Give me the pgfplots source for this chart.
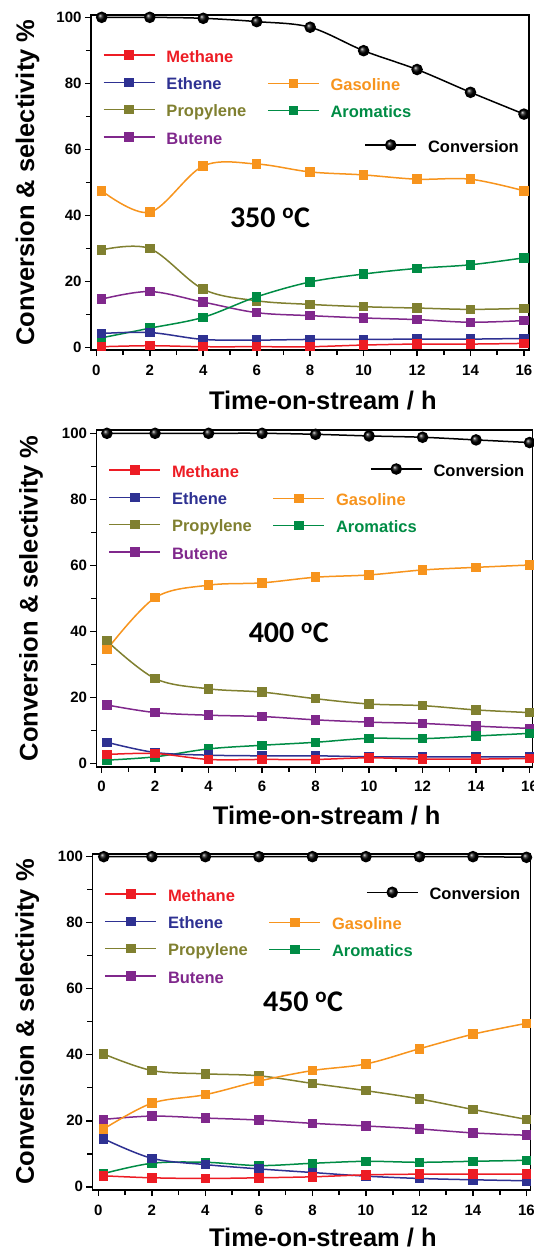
\documentclass[border=0pt]{standalone}
\usepackage{fontspec}
\setmainfont{Liberation Sans}
\newfontfamily\calib{Carlito}
\usepackage{pgfplots}
\usepackage{pgfplotstable}
\pgfplotsset{compat=1.18}
\usetikzlibrary{plotmarks}

\definecolor{cmet}{RGB}{237,28,36}
\definecolor{ceth}{RGB}{46,49,146}
\definecolor{cgas}{RGB}{247,148,29}
\definecolor{cpro}{RGB}{128,128,48}
\definecolor{caro}{RGB}{0,140,69}
\definecolor{cbut}{RGB}{128,40,140}

\pgfplotstableread{
x    met  eth  pro  but  gas  aro  conv
0.2  0.3  4.3  29.6 14.7 47.5 3.0  100
2    0.6  4.6  30.0 17.0 41.0 5.9  100
4    0.3  2.5  17.7 13.8 55.0 9.2  99.7
6    0.3  2.3  14.2 10.6 55.6 15.4 98.7
8    0.3  2.5  13.1 9.7  53.2 19.9 97.0
10   0.8  2.5  12.4 9.0  52.3 22.3 89.9
12   1.1  2.6  12.0 8.5  51.0 24.0 84.2
14   1.1  2.6  11.6 7.7  51.0 25.1 77.3
16   1.3  2.8  11.9 8.2  47.5 27.2 70.7
}\tA

\pgfplotstableread{
x    met  eth  pro  but  gas  aro  conv
0.2  2.7  6.4  37.1 17.7 34.5 1.0  100
2    3.0  3.3  25.7 15.4 50.2 2.0  100
4    1.2  2.5  22.6 14.6 54.0 4.4  100
6    1.2  2.3  21.6 14.2 54.7 5.5  100
8    1.2  2.3  19.6 13.2 56.4 6.4  99.7
10   1.7  2.0  18.0 12.5 57.1 7.6  99.2
12   1.3  2.0  17.5 12.1 58.6 7.5  98.8
14   1.3  2.0  16.2 11.3 59.4 8.3  98.0
16   1.5  2.0  15.4 10.6 60.1 9.1  97.2
}\tB

\pgfplotstableread{
x    met  eth  pro  but  gas  aro  conv
0.2  3.3  14.5 40.2 20.4 17.5 4.0  100
2    2.7  8.6  35.2 21.4 25.3 7.1  100
4    2.5  6.7  34.2 20.8 27.9 7.4  100
6    2.7  5.4  33.6 20.2 32.0 6.4  100
8    3.0  4.3  31.3 19.2 35.2 7.1  100
10   3.6  3.2  29.1 18.4 37.2 7.7  100
12   3.8  2.5  26.6 17.5 41.8 7.4  100
14   3.8  2.1  23.4 16.3 46.2 7.7  100
16   3.8  1.8  20.4 15.6 49.5 8.0  99.8
}\tC

\pgfplotsset{
  panel/.style={scale only axis, anchor=south west, tick align=outside, tick pos=left,
    xtick={0,2,...,16}, minor xtick={1,3,...,15},
    ytick={0,20,...,100}, minor ytick={10,30,...,90},
    axis line style={line width=1.8pt},
    every tick/.append style={black, line width=1.6pt},
    major tick length=6pt, minor tick length=5pt,
    tick label style={font=\fontsize{15}{15}\selectfont\bfseries},
    xticklabel style={text height=11pt, text depth=0pt, yshift=-4.5pt},
    /pgf/number format/assume math mode=true,
    xlabel={Time-on-stream / h},
    ylabel={Conversion \& selectivity \%},
    every axis y label/.style={rotate=90, anchor=base, font=\fontsize{25.5}{25.5}\selectfont\bfseries},
    every axis x label/.style={anchor=base, font=\fontsize{25.5}{25.5}\selectfont\bfseries},
  },
  over/.style={scale only axis, anchor=south west, hide axis},
  leg/.style={legend cell align=left,
    legend style={draw=none, fill=none, inner sep=0pt, outer sep=0pt,
      row sep=9.7pt, column sep=11pt,
      font=\fontsize{16.5}{16.5}\selectfont\bfseries,
      nodes={inner sep=0pt, text height=16pt, text depth=1.6pt},
      at={(axis description cs:0,1)}, anchor=north west},
    legend image code/.code={\draw[line width=1.5pt, mark repeat=2,mark phase=2] plot coordinates {(0pt,0pt)(25.5pt,0pt)(51pt,0pt)};}},
  gA/.style={at={(91pt,-350pt)}, width=438.3pt, height=335pt, xmin=-0.2, xmax=16.2, ymin=-0.7, ymax=100.7},
  gB/.style={at={(96.5pt,-766.7pt)}, width=436pt, height=336.7pt, xmin=-0.19, xmax=16.11, ymin=-1, ymax=101},
  gC/.style={at={(92.5pt,-1190pt)}, width=438pt, height=336pt, xmin=-0.22, xmax=16.15, ymin=-1, ymax=100.8},
  sq/.style={mark=square*, mark size=4pt, line width=1.5pt, smooth, tension=0.55, mark options={solid}},
  smet/.style={sq, color=cmet},
  seth/.style={sq, color=ceth},
  sgas/.style={sq, color=cgas},
  spro/.style={sq, color=cpro},
  saro/.style={sq, color=caro},
  sbut/.style={sq, color=cbut},
  sconv/.style={black, line width=1.5pt, smooth, tension=0.55, mark=ball, mark size=5pt, mark options={ball color=black}},
}

\newcommand{\allplots}[1]{%
  \addplot[sbut, forget plot] table[x=x,y=but]{#1};
  \addplot[spro, forget plot] table[x=x,y=pro]{#1};
  \addplot[sgas, forget plot] table[x=x,y=gas]{#1};
  \addplot[saro, forget plot] table[x=x,y=aro]{#1};
  \addplot[seth, forget plot] table[x=x,y=eth]{#1};
  \addplot[smet, forget plot] table[x=x,y=met]{#1};
  \addplot[sconv, forget plot] table[x=x,y=conv]{#1};
  \addlegendimage{smet}\addlegendentry{\textcolor{cmet}{Methane}}
  \addlegendimage{seth}\addlegendentry{\textcolor{ceth}{Ethene}}
  \addlegendimage{spro}\addlegendentry{\textcolor{cpro}{Propylene}}
  \addlegendimage{sbut}\addlegendentry{\textcolor{cbut}{Butene}}
}
\newcommand{\coltwo}{%
  \addlegendimage{sgas}\addlegendentry{\textcolor{cgas}{Gasoline}}
  \addlegendimage{saro}\addlegendentry{\textcolor{caro}{Aromatics}}
}
\newcommand{\convleg}{%
  \addlegendimage{sconv}\addlegendentry{Conversion}
}
\newcommand{\temp}[1]{{\calib\bfseries\fontsize{30}{30}\selectfont #1\ \textsuperscript{o}C}}

\begin{document}
\begin{tikzpicture}
\path[use as bounding box] (0pt,0pt) rectangle (534pt,-1251pt);

% ---------- 350 C ----------
\begin{axis}[panel, gA, leg, legend style={xshift=12pt, yshift=-31.2pt},
  xlabel style={at={(axis description cs:0.529,-0.179)}},
  ylabel style={at={(axis description cs:-0.130,0.5)}}]
\allplots{\tA}
\node at (axis cs:6.5,39.2) {\temp{350}};
\end{axis}
\begin{axis}[over, gA, leg, legend style={xshift=176pt, yshift=-59.5pt}]
\coltwo
\end{axis}
\begin{axis}[over, gA, leg, legend style={xshift=273.5pt, yshift=-121.2pt}]
\convleg
\end{axis}

% ---------- 400 C ----------
\begin{axis}[panel, gB, leg, legend style={xshift=12pt, yshift=-31.2pt},
  xlabel style={at={(axis description cs:0.528,-0.173)}},
  ylabel style={at={(axis description cs:-0.1353,0.5)}}]
\allplots{\tB}
\node at (axis cs:7.0,39.6) {\temp{400}};
\end{axis}
\begin{axis}[over, gB, leg, legend style={xshift=176pt, yshift=-59.5pt}]
\coltwo
\end{axis}
\begin{axis}[over, gB, leg, legend style={xshift=273.5pt, yshift=-30.2pt}]
\convleg
\end{axis}

% ---------- 450 C ----------
\begin{axis}[panel, gC, leg, legend style={xshift=12pt, yshift=-31.2pt},
  xlabel style={at={(axis description cs:0.526,-0.169)}},
  ylabel style={at={(axis description cs:-0.1336,0.5)}}]
\allplots{\tC}
\node at (axis cs:7.65,56.1) {\temp{450}};
\end{axis}
\begin{axis}[over, gC, leg, legend style={xshift=176pt, yshift=-59.5pt}]
\coltwo
\end{axis}
\begin{axis}[over, gC, leg, legend style={xshift=273.5pt, yshift=-29.5pt}]
\convleg
\end{axis}
\end{tikzpicture}
\end{document}
